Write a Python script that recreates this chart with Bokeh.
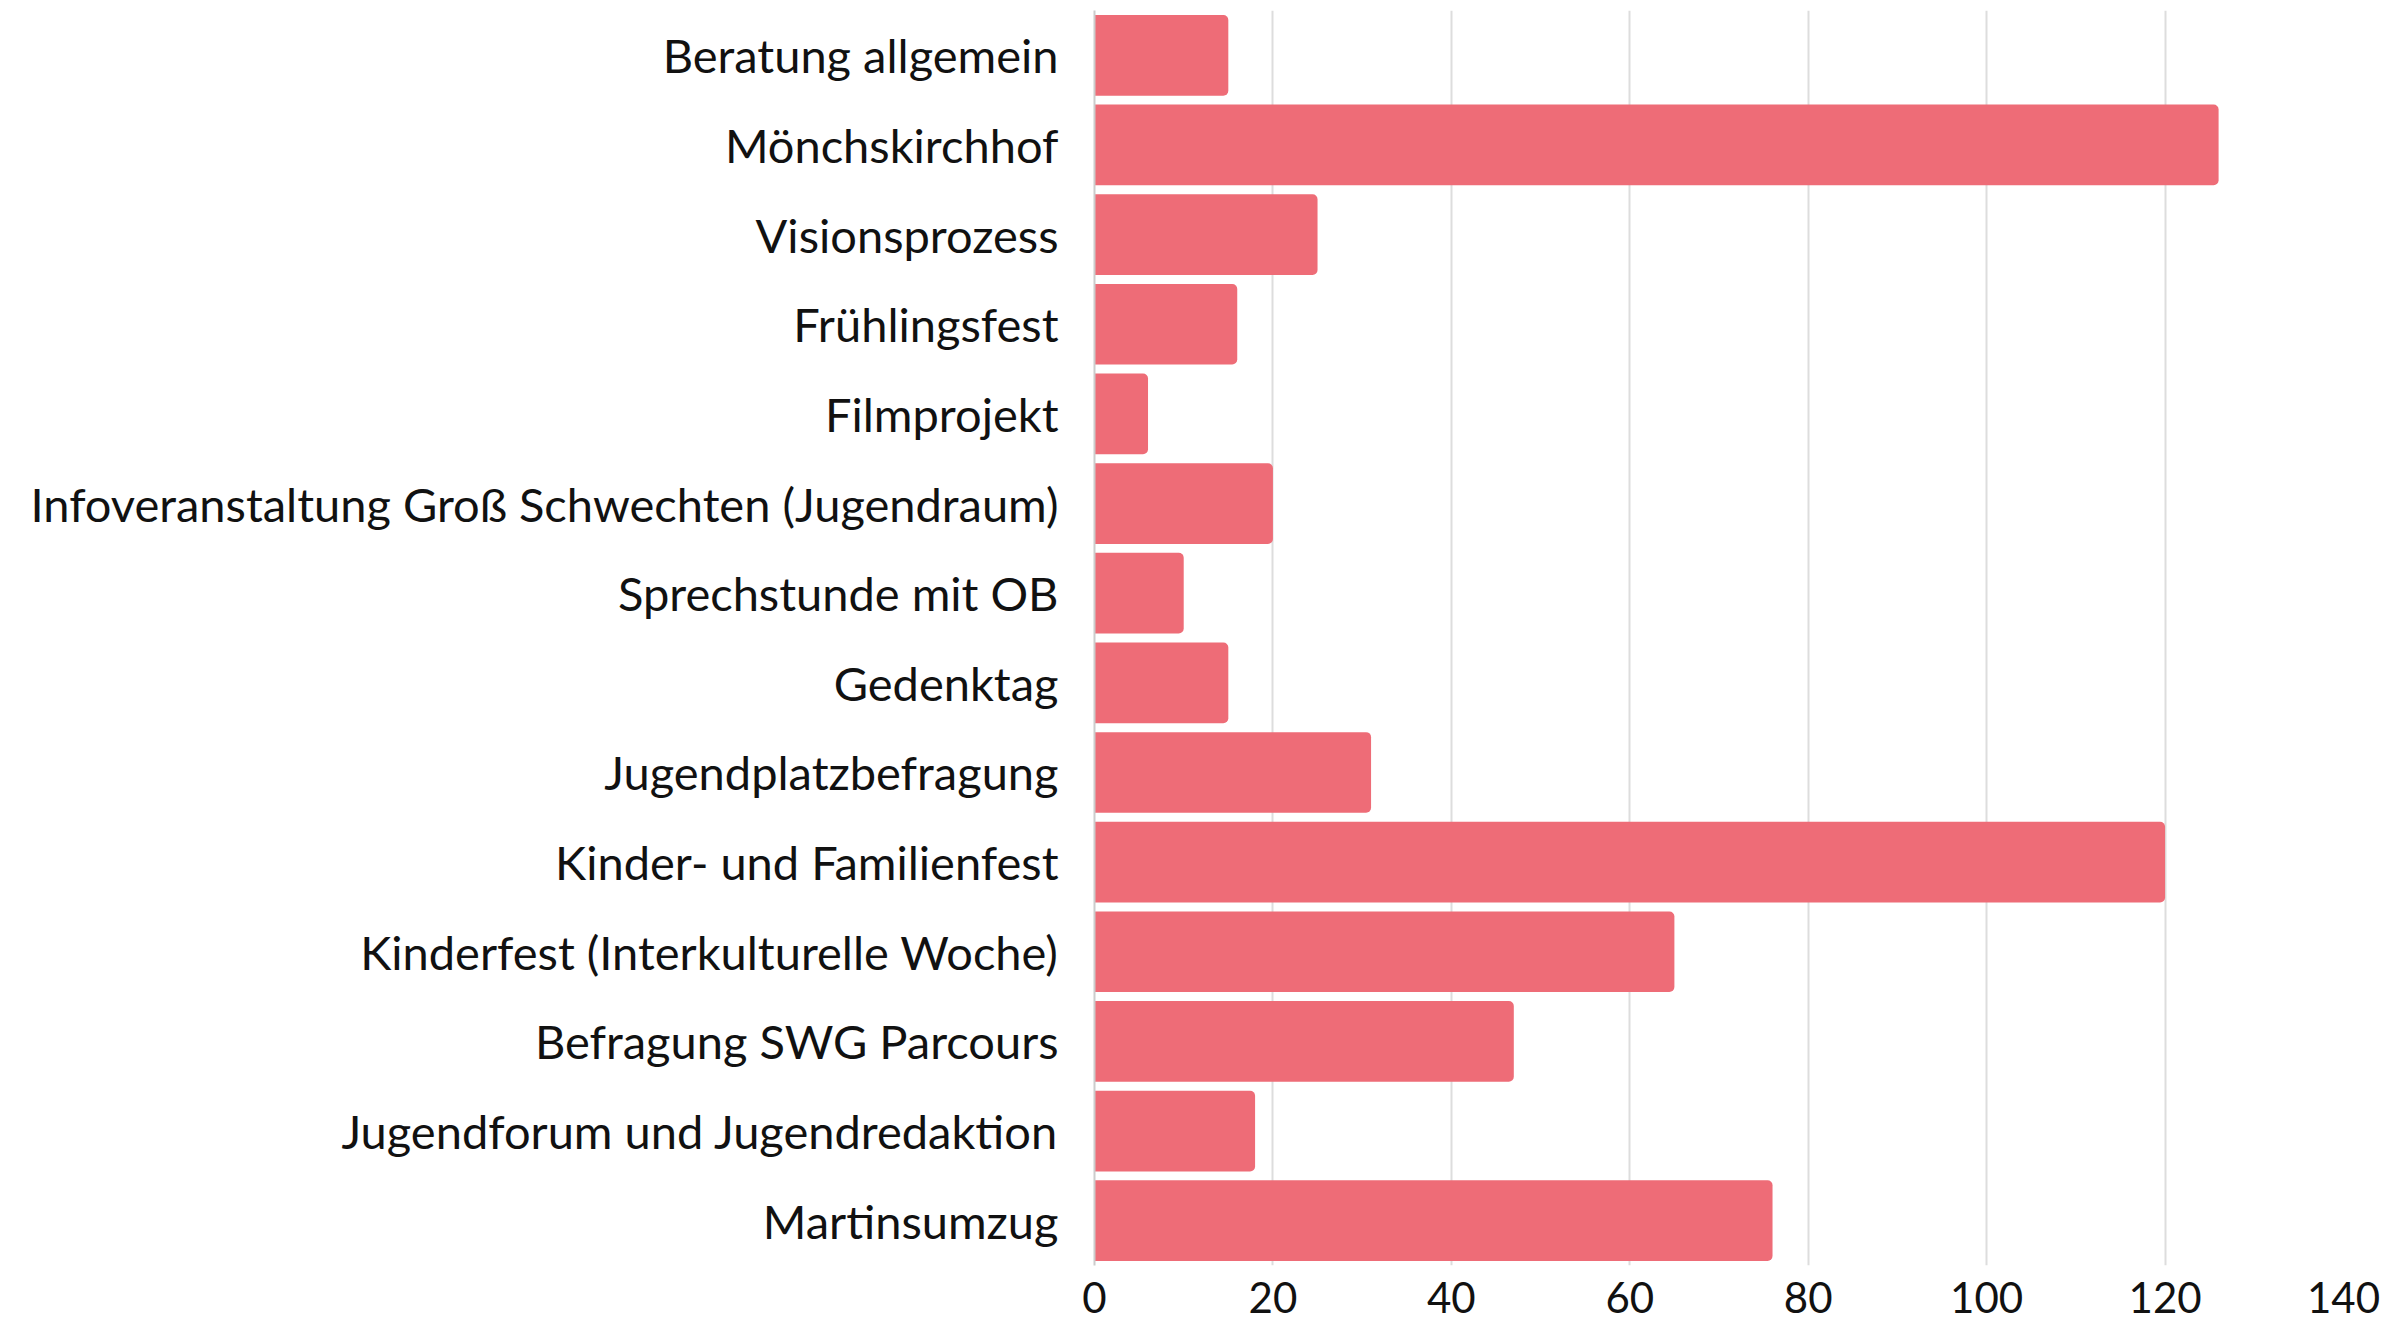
from bokeh.plotting import figure
from bokeh.models import Range1d, FactorRange, FixedTicker
from bokeh.embed import file_html
from bokeh.resources import INLINE

categories = [
    "Beratung allgemein",
    "Mönchskirchhof",
    "Visionsprozess",
    "Frühlingsfest",
    "Filmprojekt",
    "Infoveranstaltung Groß Schwechten (Jugendraum)",
    "Sprechstunde mit OB",
    "Gedenktag",
    "Jugendplatzbefragung",
    "Kinder- und Familienfest",
    "Kinderfest (Interkulturelle Woche)",
    "Befragung SWG Parcours",
    "Jugendforum und Jugendredaktion",
    "Martinsumzug",
]
values = [15, 126, 25, 16, 6, 20, 10, 15, 31, 120, 65, 47, 18, 76]
x_ticks = [0, 20, 40, 60, 80, 100, 120, 140]

FONT = "Lato"

p = figure(
    width=2388, height=1327,
    y_range=FactorRange(factors=list(reversed(categories)), range_padding=0),
    x_range=Range1d(0, 140),
    output_backend="svg", toolbar_location=None,
    min_border_left=1094, min_border_right=45, min_border_top=10, min_border_bottom=62,
)
p.outline_line_color = None

p.hbar(y=categories, right=values, left=0, height=0.9,
       fill_color="#ee6c77", line_color=None, border_radius=(0, 5, 5, 0))

p.xgrid.ticker = FixedTicker(ticks=x_ticks)
p.xgrid.grid_line_color = "#dddddd"
p.xgrid.grid_line_width = 2
p.ygrid.grid_line_color = None

p.xaxis.ticker = FixedTicker(ticks=x_ticks)
p.xaxis.axis_line_color = None
p.xaxis.major_tick_line_color = None
p.xaxis.minor_tick_line_color = None
p.xaxis.major_label_text_font = FONT
p.xaxis.major_label_text_font_size = "42px"
p.xaxis.major_label_text_color = "#111111"
p.xaxis.major_label_standoff = 10

p.yaxis.axis_line_color = "#cccccc"
p.yaxis.axis_line_width = 2
p.yaxis.major_tick_line_color = None
p.yaxis.minor_tick_line_color = None
p.yaxis.major_label_text_font = FONT
p.yaxis.major_label_text_font_size = "47px"
p.yaxis.major_label_text_color = "#111111"
p.yaxis.major_label_standoff = 30

open("out.html", "w").write(file_html(p, INLINE))
